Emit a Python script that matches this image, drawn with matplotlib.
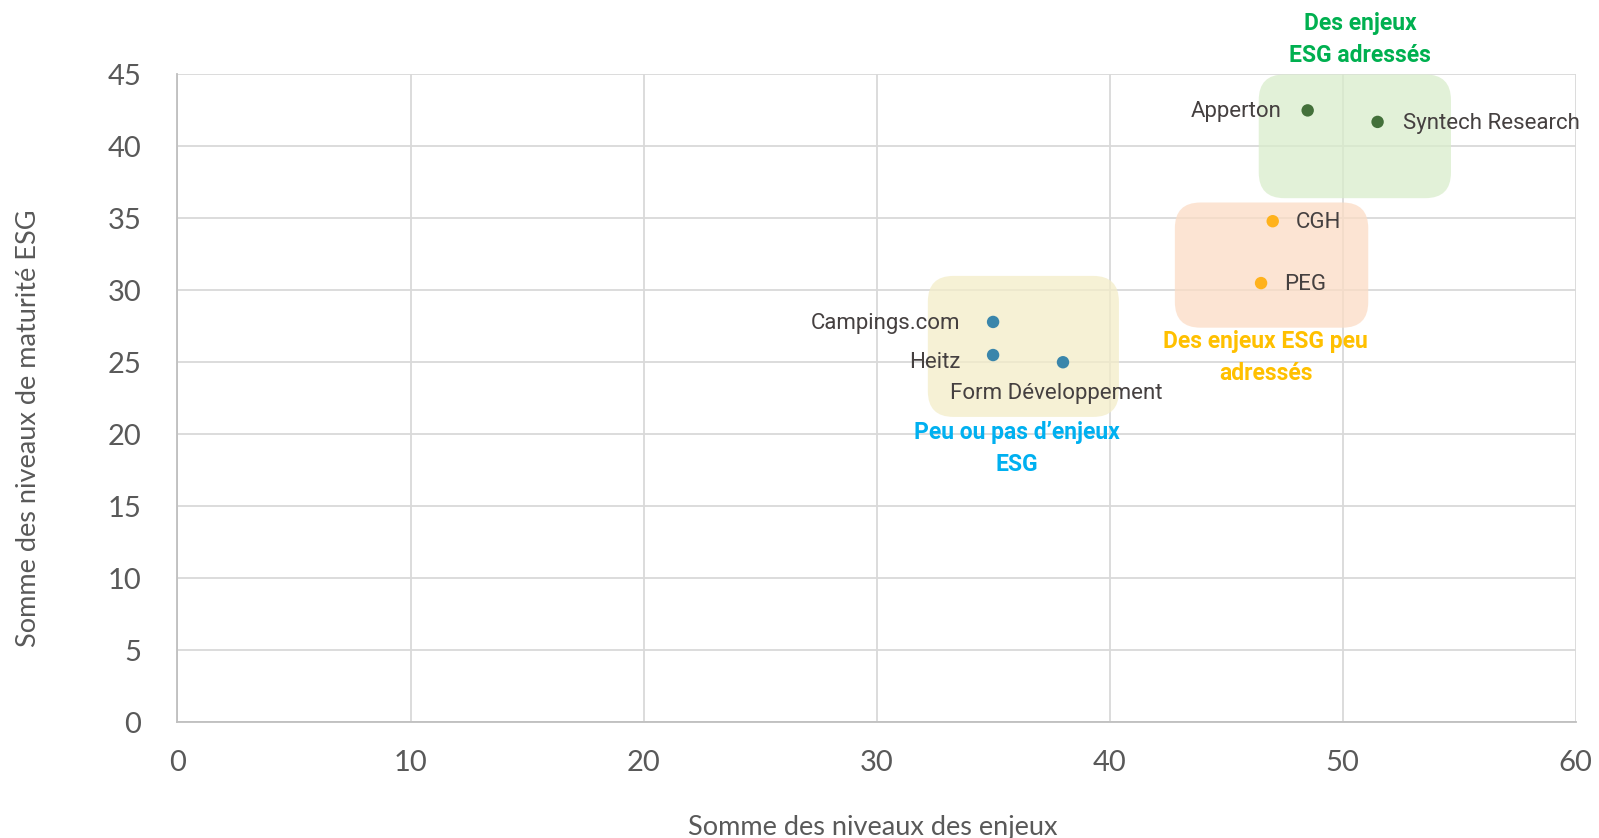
import matplotlib
matplotlib.use("Agg")
import matplotlib.pyplot as plt
from matplotlib.patches import FancyBboxPatch

# ---- data ----
names = ["Apperton", "Syntech Research", "CGH", "PEG", "Campings.com", "Heitz", "Form Développement"]
x_vals = [48.5, 51.5, 47.0, 46.5, 35.0, 35.0, 38.0]
y_vals = [42.5, 41.7, 34.8, 30.5, 27.8, 25.5, 25.0]
groups = ["high", "high", "mid", "mid", "low", "low", "low"]
x_ticks = [0, 10, 20, 30, 40, 50, 60]
y_ticks = [0, 5, 10, 15, 20, 25, 30, 35, 40, 45]

group_color = {"high": "#43703A", "mid": "#FFB21C", "low": "#3A86AB"}

# zones: (x0, y0, x1, y1)
zones = {
    "high": (46.4, 36.4, 54.65, 45.0),
    "mid": (42.8, 27.4, 51.1, 36.1),
    "low": (32.2, 21.2, 40.4, 31.0),
}
zone_fill = {"high": "#D9EDCB", "mid": "#FCDCC5", "low": "#F3EDC8"}
zone_titles = {
    "high": ("Des enjeux\nESG adressés", "#00B050", 50.75, 47.45),
    "mid": ("Des enjeux ESG peu\nadressés", "#FFC000", 46.7, 25.3),
    "low": ("Peu ou pas d\u2019enjeux\nESG", "#00B0F0", 36.0, 19.0),
}

plt.rcParams['font.family'] = ['Roboto', 'DejaVu Sans']

fig = plt.figure(figsize=(15.99, 8.38), dpi=100)
ax = fig.add_axes([0.111, 0.1384, 0.8744, 0.7728])
ax.set_xlim(0, 60)
ax.set_ylim(0, 45)
ax.set_xticks(x_ticks)
ax.set_yticks(y_ticks)
ax.grid(True, color="#D9D9D9", linewidth=1.3, zorder=0)
ax.set_axisbelow(True)
for s in ["top", "right"]:
    ax.spines[s].set_visible(False)
for s in ["left", "bottom"]:
    ax.spines[s].set_color("#BFBFBF")
    ax.spines[s].set_linewidth(1.3)
ax.tick_params(length=0, labelsize=21, colors="#595959")
ax.tick_params(axis="y", pad=26)
ax.tick_params(axis="x", pad=20)
for lab in ax.get_xticklabels() + ax.get_yticklabels():
    lab.set_fontfamily(['Lato', 'DejaVu Sans'])

# zones
for g, (x0, y0, x1, y1) in zones.items():
    p = FancyBboxPatch((x0, y0), x1 - x0, y1 - y0,
                       boxstyle="round,pad=0,rounding_size=1.1",
                       mutation_aspect=1.62,
                       facecolor=zone_fill[g], edgecolor="none", alpha=0.75, zorder=2)
    ax.add_patch(p)
    t, c, tx, ty = zone_titles[g]
    ax.text(tx, ty, t, color=c, fontsize=16.5, fontweight="bold", ha="center", va="center",
            linespacing=1.5, zorder=4, clip_on=False)

# points
for n, xv, yv, g in zip(names, x_vals, y_vals, groups):
    ax.scatter([xv], [yv], s=80, color=group_color[g], zorder=3, edgecolors="none")

# labels
lab_style = dict(fontsize=16, color="#454040", zorder=3.5)
offsets = {
    "Apperton": (-1.1, -0.1, "right", "center"),
    "Syntech Research": (1.1, -0.1, "left", "center"),
    "CGH": (1.0, -0.1, "left", "center"),
    "PEG": (1.0, -0.1, "left", "center"),
    "Campings.com": (-1.4, -0.1, "right", "center"),
    "Heitz": (-1.4, -0.5, "right", "center"),
    "Form Développement": (-0.3, -2.2, "center", "center"),
}
for n, xv, yv in zip(names, x_vals, y_vals):
    dx, dy, ha, va = offsets[n]
    ax.text(xv + dx, yv + dy, n, ha=ha, va=va, **lab_style)

fig.text(0.5455, 0.013, "Somme des niveaux des enjeux", fontsize=19.5, color="#595959",
         ha="center", va="center", family=['Lato', 'DejaVu Sans'])
fig.text(0.018, 0.489, "Somme des niveaux de maturité ESG", fontsize=19.5, color="#595959",
         ha="center", va="center", rotation=90, family=['Lato', 'DejaVu Sans'])

fig.savefig("out.png", dpi=100)
